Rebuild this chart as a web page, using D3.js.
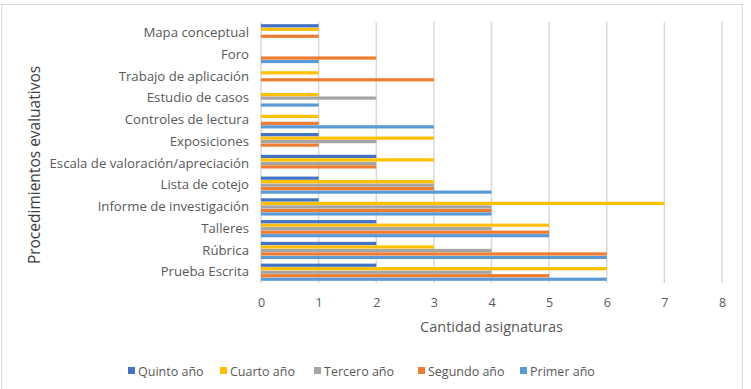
<!DOCTYPE html>
<html>
<head>
<meta charset="utf-8">
<script src="https://cdn.jsdelivr.net/npm/d3@7"></script>
<style>
  body { margin: 0; background: #fff; }
  text { font-family: "Open Sans", "Noto Sans", sans-serif; }
</style>
</head>
<body>
<div id="chart"></div>
<script>
// categories, bottom to top as in the original
const categories = [
  "Prueba Escrita", "Rúbrica", "Talleres", "Informe de investigación",
  "Lista de cotejo", "Escala de valoración/apreciación", "Exposiciones",
  "Controles de lectura", "Estudio de casos", "Trabajo de aplicación",
  "Foro", "Mapa conceptual"
];
const seriesNames = ["Primer año", "Segundo año", "Tercero año", "Cuarto año", "Quinto año"];
const seriesColors = ["#5B9BD5", "#ED7D31", "#A5A5A5", "#FFC000", "#4472C4"];

const primerAnio  = [6, 6, 5, 4, 4, 0, 0, 3, 1, 0, 1, 0];
const segundoAnio = [5, 6, 5, 4, 3, 2, 1, 1, 0, 3, 2, 1];
const terceroAnio = [4, 4, 4, 4, 3, 2, 2, 0, 2, 0, 0, 0];
const cuartoAnio  = [6, 3, 5, 7, 3, 3, 3, 1, 1, 1, 0, 1];
const quintoAnio  = [2, 2, 2, 1, 1, 2, 1, 0, 0, 0, 0, 1];
const seriesValues = [primerAnio, segundoAnio, terceroAnio, cuartoAnio, quintoAnio];

const xTicks = [0, 1, 2, 3, 4, 5, 6, 7, 8];
const legendOrder = ["Quinto año", "Cuarto año", "Tercero año", "Segundo año", "Primer año"];

const width = 751, height = 389;
const margin = { top: 22, right: 29, bottom: 106, left: 261 };
const innerH = height - margin.top - margin.bottom;

const svg = d3.select("#chart").append("svg")
  .attr("width", width)
  .attr("height", height);

// outer chart border
svg.append("rect")
  .attr("x", 1.5).attr("y", 4.5)
  .attr("width", 741).attr("height", 390)
  .attr("fill", "none")
  .attr("stroke", "#d9d9d9");

const g = svg.append("g")
  .attr("transform", `translate(${margin.left},${margin.top})`);

const x = d3.scaleLinear().domain([0, 8]).range([0, 461]);

// top category first in the domain -> drawn at top
const y = d3.scaleBand()
  .domain(categories.slice().reverse())
  .range([0, innerH])
  .paddingInner(0.21)
  .paddingOuter(0.1);

// within a group: Quinto on top, Primer at bottom
const ySub = d3.scaleBand()
  .domain(seriesNames.slice().reverse())
  .range([0, y.bandwidth()])
  .paddingInner(0.08);

// gridlines
g.append("g")
  .selectAll("line")
  .data(xTicks)
  .join("line")
  .attr("x1", d => x(d)).attr("x2", d => x(d))
  .attr("y1", 0).attr("y2", innerH)
  .attr("stroke", "#d9d9d9")
  .attr("stroke-width", 1.5);

// bars
const rows = [];
categories.forEach((c, i) => {
  seriesNames.forEach((s, j) => {
    rows.push({ cat: c, series: s, value: seriesValues[j][i], color: seriesColors[j] });
  });
});

g.append("g")
  .selectAll("rect")
  .data(rows.filter(d => d.value > 0))
  .join("rect")
  .attr("x", x(0))
  .attr("y", d => y(d.cat) + ySub(d.series))
  .attr("width", d => x(d.value) - x(0))
  .attr("height", ySub.bandwidth())
  .attr("fill", d => d.color);

// x axis labels
const xAxis = g.append("g")
  .attr("transform", `translate(0,${innerH})`)
  .call(d3.axisBottom(x).tickValues(xTicks).tickSize(0).tickPadding(15));
xAxis.select(".domain").remove();
xAxis.selectAll("text")
  .attr("fill", "#595959")
  .style("font-size", "12.5px");

// y axis labels
const yAxis = g.append("g")
  .call(d3.axisLeft(y).tickSize(0).tickPadding(12));
yAxis.select(".domain").remove();
yAxis.selectAll("text")
  .attr("fill", "#595959")
  .style("font-size", "13.2px");

// axis titles
svg.append("text")
  .attr("x", margin.left + x(4))
  .attr("y", 332)
  .attr("text-anchor", "middle")
  .attr("fill", "#595959")
  .style("font-size", "14.5px")
  .text("Cantidad asignaturas");

svg.append("text")
  .attr("transform", "rotate(-90)")
  .attr("x", -165)
  .attr("y", 40)
  .attr("text-anchor", "middle")
  .attr("fill", "#404040")
  .style("font-size", "15.5px")
  .text("Procedimientos evaluativos");

// legend
const legendX = [128, 220, 314, 418, 520];
const legend = svg.append("g")
  .selectAll("g")
  .data(legendOrder)
  .join("g")
  .attr("transform", (d, i) => `translate(${legendX[i]},371)`);

legend.append("rect")
  .attr("x", 0).attr("y", -4)
  .attr("width", 7).attr("height", 7)
  .attr("fill", d => seriesColors[seriesNames.indexOf(d)]);

legend.append("text")
  .attr("x", 10).attr("y", 4.5)
  .attr("fill", "#595959")
  .style("font-size", "12.5px")
  .text(d => d);
</script>
</body>
</html>
